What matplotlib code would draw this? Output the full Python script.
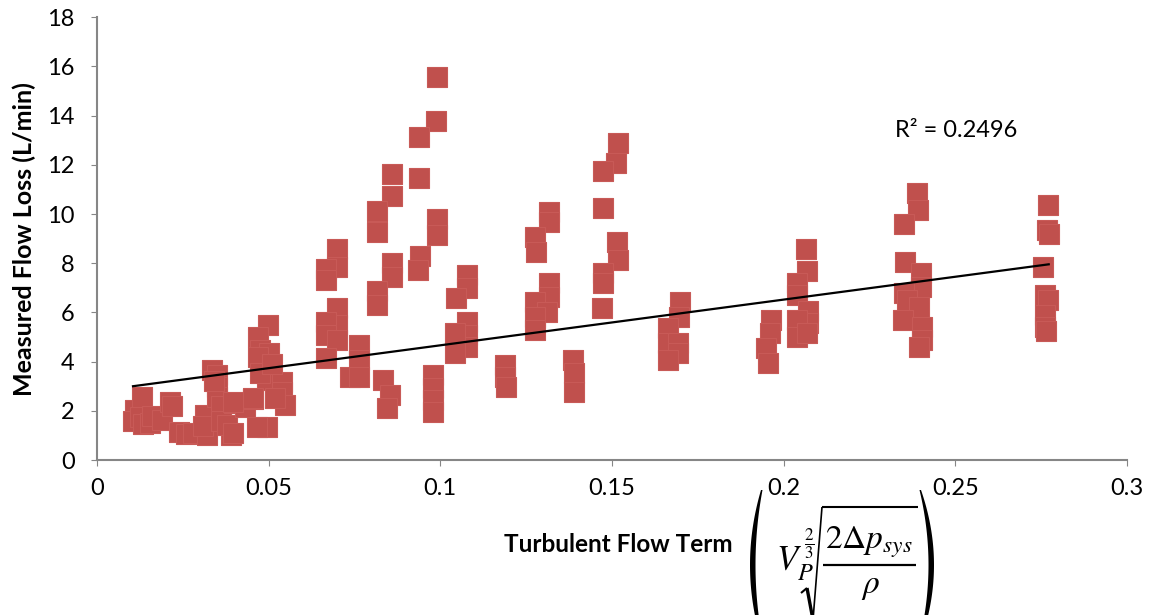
import matplotlib
matplotlib.use('Agg')
import matplotlib.pyplot as plt
from matplotlib.lines import Line2D
from matplotlib.patches import Polygon
import numpy as np

plt.rcParams['font.family'] = ['Lato', 'DejaVu Sans']
plt.rcParams['mathtext.fontset'] = 'stix'

W, H = 1150, 615

# Data
x_vals = [
    # around 0.01 - 0.055
    0.011, 0.0105, 0.013, 0.0125, 0.0135, 0.0154, 0.016, 0.019, 0.0213, 0.022,
    0.024, 0.026, 0.028, 0.032, 0.0315, 0.031, 0.0335, 0.035, 0.035, 0.035,
    0.036, 0.034, 0.036, 0.039, 0.038, 0.040, 0.043, 0.0455, 0.0498, 0.047,
    0.0475, 0.050, 0.047, 0.0495, 0.0475, 0.054, 0.054, 0.0548, 0.0495, 0.0466,
    0.052, 0.051, 0.0455, 0.0396, 0.0396,
    # around 0.065 - 0.11
    0.099, 0.0988, 0.0938, 0.086, 0.0938, 0.086, 0.0815, 0.0815, 0.099, 0.099,
    0.094, 0.0936, 0.086, 0.086, 0.0815, 0.0815, 0.070, 0.070, 0.0667, 0.0667,
    0.1078, 0.1078, 0.1046, 0.070, 0.070, 0.0667, 0.0667, 0.070, 0.0667, 0.0763,
    0.0763, 0.0737, 0.0763, 0.0833, 0.0853, 0.0845, 0.0979, 0.0979, 0.0979, 0.0979,
    0.1078, 0.1078, 0.1078, 0.1043, 0.1043,
    # around 0.12 - 0.15
    0.1518, 0.1512, 0.1474, 0.1474, 0.1317, 0.1317, 0.1276, 0.128, 0.1515, 0.1518,
    0.1474, 0.1474, 0.147, 0.1317, 0.1317, 0.1276, 0.131, 0.1276, 0.1276, 0.1188,
    0.1188, 0.119, 0.1387, 0.139, 0.139,
    # around 0.165 - 0.21
    0.1698, 0.1695, 0.1663, 0.1663, 0.1692, 0.1692, 0.1663, 0.1963, 0.1960, 0.1949,
    0.1955, 0.2065, 0.2068, 0.2039, 0.2039, 0.2071, 0.2071, 0.2039, 0.2039, 0.2068,
    # around 0.235 - 0.28
    0.2389, 0.2392, 0.2351, 0.2354, 0.2400, 0.2400, 0.2351, 0.2360, 0.2394, 0.2348,
    0.2403, 0.2403, 0.2394, 0.2770, 0.2767, 0.2772, 0.2756, 0.2761, 0.2770, 0.2761,
    0.2761, 0.2765,
]
y_vals = [
    2.03, 1.60, 2.56, 1.75, 1.45, 1.50, 1.80, 1.63, 2.36, 2.20,
    1.14, 1.05, 1.10, 1.00, 1.83, 1.40, 3.66, 3.46, 2.97, 2.56,
    2.20, 3.20, 1.60, 1.00, 1.42, 2.30, 2.15, 2.50, 5.49, 5.00,
    4.47, 4.35, 4.20, 3.25, 3.54, 3.17, 2.76, 2.24, 1.34, 1.34,
    2.52, 3.90, 2.52, 2.36, 1.10,
    15.57, 13.78, 13.13, 11.63, 11.46, 10.73, 10.12, 9.27, 9.80, 9.15,
    8.29, 7.72, 8.00, 7.44, 6.87, 6.30, 8.58, 7.85, 7.76, 7.32,
    7.52, 6.99, 6.59, 6.18, 5.49, 5.61, 5.08, 4.88, 4.15, 4.67,
    4.07, 3.37, 3.37, 3.25, 2.64, 2.11, 3.46, 2.93, 2.44, 1.95,
    5.61, 5.08, 4.59, 5.16, 4.35,
    12.89, 12.07, 11.75, 10.24, 10.08, 9.67, 9.07, 8.46, 8.86, 8.13,
    7.60, 7.20, 6.18, 7.20, 6.63, 6.42, 6.02, 5.81, 5.28, 3.86,
    3.37, 2.97, 4.07, 3.54, 2.76,
    6.42, 5.81, 5.37, 4.76, 4.76, 4.35, 4.07, 5.69, 5.16, 4.55,
    3.94, 8.58, 7.68, 7.20, 6.71, 6.06, 5.57, 5.69, 5.00, 5.16,
    10.85, 10.16, 9.59, 8.05, 7.60, 7.03, 6.79, 6.50, 6.22, 5.69,
    5.41, 4.88, 4.59, 10.37, 9.35, 9.20, 7.85, 6.71, 6.50, 5.89,
    5.41, 5.25,
]

# linear trendline as shown in the reference
trend_slope = 18.58
trend_intercept = 2.805
r2_label = "R² = 0.2496"

x_ticks = [0, 0.05, 0.1, 0.15, 0.2, 0.25, 0.3]
x_tick_labels = ['0', '0.05', '0.1', '0.15', '0.2', '0.25', '0.3']
y_ticks = [0, 2, 4, 6, 8, 10, 12, 14, 16, 18]


def fx(px):
    return px / W


def fy(py):
    return 1 - py / H


def fig_line(fig, xs, ys, lw):
    fig.add_artist(Line2D([fx(v) for v in xs], [fy(v) for v in ys],
                          color='black', linewidth=lw, solid_capstyle='butt',
                          transform=fig.transFigure))


def fig_paren(fig, x_end, bulge, y_top, y_bot, direction):
    # thin tall parenthesis drawn as a crescent, direction -1 = "(", +1 = ")"
    t = np.linspace(-1, 1, 60)
    yy = (y_top + y_bot) / 2 + t * (y_bot - y_top) / 2
    outer = x_end + direction * bulge * (1 - t ** 2)
    inner = x_end - direction * 1.5 + direction * (bulge - 4) * (1 - t ** 2)
    pts = [(fx(a), fy(b)) for a, b in zip(outer, yy)]
    pts += [(fx(a), fy(b)) for a, b in zip(inner[::-1], yy[::-1])]
    fig.add_artist(Polygon(pts, closed=True, facecolor='black', edgecolor='none',
                           transform=fig.transFigure))


fig = plt.figure(figsize=(11.5, 6.15), dpi=100)
ax = fig.add_axes([0.0843, 0.252, 0.8957, 0.720])

ax.scatter(x_vals, y_vals, marker='s', s=210, facecolor='#C0504D',
           edgecolor='#C85A57', linewidth=0.8, zorder=2)

tx = np.array([min(x_vals), max(x_vals)])
ax.plot(tx, trend_slope * tx + trend_intercept, color='black', linewidth=1.6, zorder=3)

ax.text(0.2325, 13.4, r2_label, fontsize=17, ha='left', va='center')

ax.set_xlim(0, 0.3)
ax.set_ylim(0, 18)
ax.set_xticks(x_ticks)
ax.set_xticklabels(x_tick_labels)
ax.set_yticks(y_ticks)
ax.tick_params(axis='both', direction='out', length=4, color='#868686',
               labelsize=17)
ax.tick_params(axis='x', pad=9)
ax.tick_params(axis='y', pad=12)

for side in ['top', 'right']:
    ax.spines[side].set_visible(False)
for side in ['left', 'bottom']:
    ax.spines[side].set_color('#868686')
    ax.spines[side].set_linewidth(1.5)

ax.set_ylabel("Measured Flow Loss (L/min)", fontsize=18, fontweight='bold', labelpad=8)

# x axis title: bold text, then the formula built from pieces
fig.text(fx(733), fy(544), "Turbulent Flow Term", fontsize=17.5,
         fontweight='bold', ha='right', va='center')

fig_paren(fig, 761, 11, 490, 640, -1)
fig_paren(fig, 921, 13, 490, 640, 1)

fig.text(fx(776), fy(571), r'$V_P^{\,\frac{2}{3}}$', fontsize=25, ha='left', va='baseline')

# radical sign
fig_line(fig, [801, 807], [593, 588], 1.5)
fig_line(fig, [807, 813], [588, 620], 2.4)
fig_line(fig, [813, 822], [620, 507], 1.2)
fig_line(fig, [822, 918], [507, 507], 1.5)

fig.text(fx(869), fy(549), r'$2\Delta p_{sys}$', fontsize=24, ha='center', va='baseline')
fig_line(fig, [823, 916], [565, 565], 1.6)
fig.text(fx(871), fy(593), r'$\rho$', fontsize=24, ha='center', va='baseline')

fig.savefig('out.png', dpi=100)
plt.close(fig)
